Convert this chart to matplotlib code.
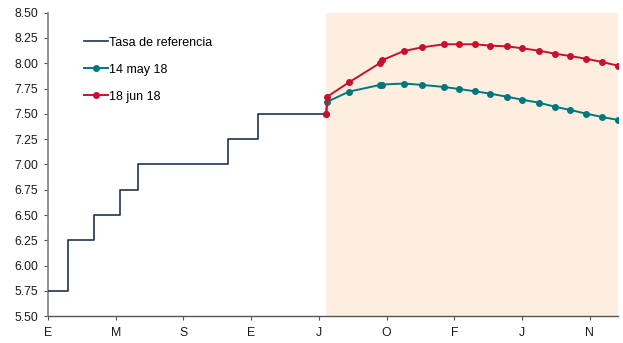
import matplotlib
matplotlib.use('Agg')
import matplotlib.pyplot as plt

plt.rcParams['font.family'] = ['Liberation Sans', 'DejaVu Sans']

NAVY = '#1F3552'
TEAL = '#00777E'
RED = '#C8102E'
SHADE = '#FDEEDF'

# Reference rate (step series), x in months-of-axis units
ref_x = [0, 1.20, 2.72, 4.23, 5.33, 10.64, 12.42, 16.43]
ref_y = [5.75, 6.25, 6.50, 6.75, 7.00, 7.25, 7.50, 7.50]

# Market-implied paths
fc_x = [16.43, 16.49, 17.78, 19.58, 19.72, 21.03, 22.11, 23.39, 24.26, 25.22,
        26.11, 27.08, 28.01, 28.97, 29.93, 30.83, 31.79, 32.72, 33.66]
may_y = [7.50, 7.62, 7.72, 7.785, 7.79, 7.80, 7.786, 7.766, 7.746, 7.723,
         7.70, 7.67, 7.64, 7.611, 7.571, 7.539, 7.502, 7.469, 7.44]
jun_y = [7.50, 7.67, 7.812, 8.00, 8.03, 8.122, 8.158, 8.188, 8.188, 8.188,
         8.174, 8.168, 8.148, 8.125, 8.095, 8.072, 8.044, 8.013, 7.976]

tick_pos = [0, 4, 8, 12, 16, 20, 24, 28, 32]
tick_lbl = ['E', 'M', 'S', 'E', 'J', 'O', 'F', 'J', 'N']
y_ticks = [5.50, 5.75, 6.00, 6.25, 6.50, 6.75, 7.00, 7.25, 7.50, 7.75, 8.00, 8.25, 8.50]

fig = plt.figure(figsize=(6.23, 3.43), dpi=100)
ax = fig.add_axes([0.077, 0.078, 0.915, 0.885])

ax.axvspan(fc_x[0], fc_x[-1], color=SHADE, lw=0, zorder=0)

ax.plot(ref_x, ref_y, drawstyle='steps-post', color=NAVY, lw=1.2,
        label='Tasa de referencia', zorder=3)
ax.plot(fc_x, may_y, color=TEAL, lw=1.4, marker='o', ms=4.0,
        label='14 may 18', zorder=4)
ax.plot(fc_x, jun_y, color=RED, lw=1.4, marker='o', ms=4.0,
        label='18 jun 18', zorder=5)

ax.set_xlim(0, fc_x[-1])
ax.set_ylim(5.5, 8.5)
ax.set_xticks(tick_pos)
ax.set_xticklabels(tick_lbl)
ax.set_yticks(y_ticks)
ax.set_yticklabels([f'{v:.2f}' for v in y_ticks])

for s in ['top', 'right']:
    ax.spines[s].set_visible(False)
ax.spines['left'].set_color('#808080')
ax.spines['left'].set_linewidth(1.2)
ax.spines['bottom'].set_color('#555555')
ax.spines['bottom'].set_linewidth(1.0)
ax.tick_params(axis='both', labelsize=8.8, colors='#555555', labelcolor='#1a1a1a',
               length=3, width=0.8)
ax.tick_params(axis='x', pad=5)
ax.tick_params(axis='y', pad=4)

ax.legend(loc='upper left', bbox_to_anchor=(0.054, 0.937), frameon=False,
          fontsize=9, handlelength=1.9, handletextpad=0.1, labelspacing=1.2,
          borderaxespad=0)

fig.savefig('out.png', dpi=100)
